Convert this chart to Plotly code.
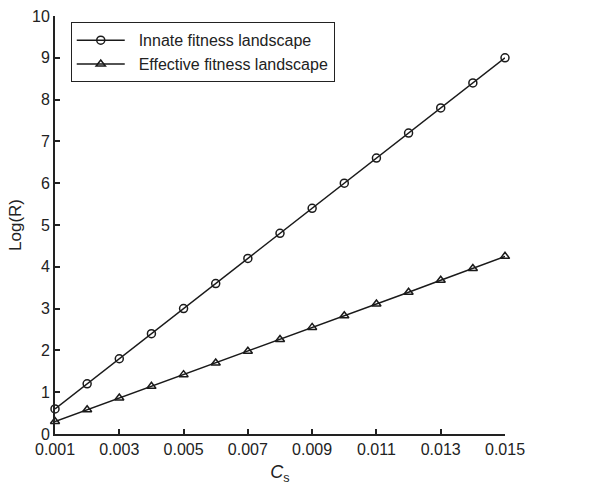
import plotly.graph_objects as go

cs = [0.001, 0.002, 0.003, 0.004, 0.005, 0.006, 0.007, 0.008, 0.009, 0.010,
      0.011, 0.012, 0.013, 0.014, 0.015]
innate = [0.6, 1.2, 1.8, 2.4, 3.0, 3.6, 4.2, 4.8, 5.4, 6.0, 6.6, 7.2, 7.8, 8.4, 9.0]
effective = [0.3, 0.58, 0.86, 1.14, 1.42, 1.7, 1.98, 2.26, 2.55, 2.83, 3.11, 3.39,
             3.68, 3.96, 4.25]
x_ticks = [0.001, 0.003, 0.005, 0.007, 0.009, 0.011, 0.013, 0.015]
x_ticklabels = ["0.001", "0.003", "0.005", "0.007", "0.009", "0.011", "0.013", "0.015"]
y_ticks = list(range(0, 11))
series_names = ["\u00a0\u00a0Innate fitness landscape", "\u00a0\u00a0Effective fitness landscape"]

fig = go.Figure()
fig.add_trace(go.Scatter(
    x=cs, y=innate, mode="lines+markers", name=series_names[0], cliponaxis=False,
    line=dict(color="#1a1a1a", width=1.5),
    marker=dict(symbol="circle-open", size=8, color="#1a1a1a", line=dict(width=1.5)),
))
fig.add_trace(go.Scatter(
    x=cs, y=effective, mode="lines+markers", name=series_names[1], cliponaxis=False,
    line=dict(color="#1a1a1a", width=1.5),
    marker=dict(symbol="triangle-up-open", size=8, color="#1a1a1a", line=dict(width=1.5)),
))

font_family = "Liberation Sans, Arial, sans-serif"
fig.update_layout(
    width=616, height=489,
    margin=dict(l=55, r=111, t=16, b=55, autoexpand=False),
    paper_bgcolor="white", plot_bgcolor="white",
    font=dict(family=font_family, size=16, color="#222"),
    showlegend=True,
    legend=dict(
        x=0.035, y=0.985, xanchor="left", yanchor="top",
        bordercolor="#222", borderwidth=1, bgcolor="white",
        font=dict(size=16, color="#222"),
        itemwidth=48, tracegroupgap=4,
    ),
    xaxis=dict(
        range=[0.001, 0.015], tickvals=x_ticks, ticktext=x_ticklabels,
        showgrid=False, zeroline=False, showline=True, linecolor="#222", linewidth=2,
        ticks="inside", ticklen=5, tickwidth=2, tickcolor="#222", automargin=False,
        tickfont=dict(size=16),
        title=dict(text="<i>C</i><sub>s</sub>", font=dict(size=18), standoff=8),
    ),
    yaxis=dict(
        range=[0, 10], tickvals=y_ticks, automargin=False,
        showgrid=False, zeroline=False, showline=True, linecolor="#222", linewidth=2,
        ticks="inside", ticklen=5, tickwidth=2, tickcolor="#222",
        tickfont=dict(size=16),
        title=dict(text="Log(R)", font=dict(size=17), standoff=6),
    ),
)

# remove the browser's default 8px body margin so the figure fills the window
fig.write_html("out.html", config={"displayModeBar": False},
               post_script="document.body.style.margin='0';")
